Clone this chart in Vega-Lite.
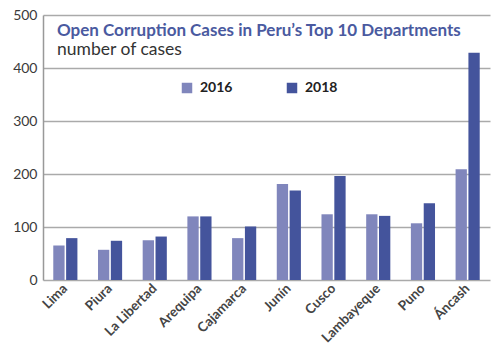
{
  "$schema": "https://vega.github.io/schema/vega-lite/v6.json",
  "width": 447,
  "height": 265,
  "autosize": {"type": "none"},
  "padding": {"left": 43, "top": 15, "right": 11, "bottom": 72},
  "background": "white",
  "config": {"font": "Lato", "view": {"stroke": null}},
  "title": {
    "text": "Open Corruption Cases in Peru’s Top 10 Departments",
    "subtitle": "number of cases",
    "anchor": "start",
    "frame": "group",
    "orient": "top",
    "offset": -51,
    "dx": 14,
    "fontSize": 17,
    "fontWeight": "bold",
    "color": "#4a5aa0",
    "subtitleFontSize": 17.5,
    "subtitleColor": "#333333",
    "subtitlePadding": 1
  },
  "data": {
    "values": [
      {"dept": "Lima", "year": "2016", "cases": 65},
      {"dept": "Lima", "year": "2018", "cases": 79},
      {"dept": "Piura", "year": "2016", "cases": 57},
      {"dept": "Piura", "year": "2018", "cases": 74},
      {"dept": "La Libertad", "year": "2016", "cases": 75},
      {"dept": "La Libertad", "year": "2018", "cases": 82},
      {"dept": "Arequipa", "year": "2016", "cases": 120},
      {"dept": "Arequipa", "year": "2018", "cases": 120},
      {"dept": "Cajamarca", "year": "2016", "cases": 79},
      {"dept": "Cajamarca", "year": "2018", "cases": 101},
      {"dept": "Junín", "year": "2016", "cases": 181},
      {"dept": "Junín", "year": "2018", "cases": 169},
      {"dept": "Cusco", "year": "2016", "cases": 124},
      {"dept": "Cusco", "year": "2018", "cases": 196},
      {"dept": "Lambayeque", "year": "2016", "cases": 124},
      {"dept": "Lambayeque", "year": "2018", "cases": 121},
      {"dept": "Puno", "year": "2016", "cases": 107},
      {"dept": "Puno", "year": "2018", "cases": 145},
      {"dept": "Áncash", "year": "2016", "cases": 209},
      {"dept": "Áncash", "year": "2018", "cases": 429}
    ]
  },
  "mark": {"type": "bar"},
  "encoding": {
    "x": {
      "field": "dept",
      "type": "nominal",
      "sort": null,
      "scale": {"paddingInner": 0.46, "paddingOuter": 0.23},
      "axis": {
        "title": null,
        "labelAngle": -45,
        "labelAlign": "right",
        "labelBaseline": "middle",
        "labelFontSize": 13.5,
        "labelFontWeight": "bold",
        "labelColor": "#444444",
        "ticks": false,
        "domain": false,
        "labelPadding": 6
      }
    },
    "xOffset": {"field": "year", "type": "nominal", "scale": {"paddingInner": 0.12}},
    "y": {
      "field": "cases",
      "type": "quantitative",
      "scale": {"domain": [0, 500]},
      "axis": {
        "title": null,
        "values": [0, 100, 200, 300, 400, 500],
        "ticks": false,
        "labelFontSize": 14,
        "labelColor": "#3a3a3a",
        "labelPadding": 6,
        "domainColor": "#999999",
        "domainWidth": 1.5,
        "gridColor": "#aaaaaa",
        "gridWidth": 1.5
      }
    },
    "color": {
      "field": "year",
      "type": "nominal",
      "scale": {"domain": ["2016", "2018"], "range": ["#8086bc", "#44549c"]},
      "legend": {
        "title": null,
        "orient": "none",
        "legendX": 137,
        "legendY": 66,
        "direction": "horizontal",
        "symbolType": "square",
        "symbolSize": 110,
        "symbolStrokeWidth": 0,
        "labelFontSize": 14,
        "labelFontWeight": "bold",
        "labelColor": "#222222",
        "columnPadding": 52,
        "labelOffset": 6
      }
    }
  }
}
